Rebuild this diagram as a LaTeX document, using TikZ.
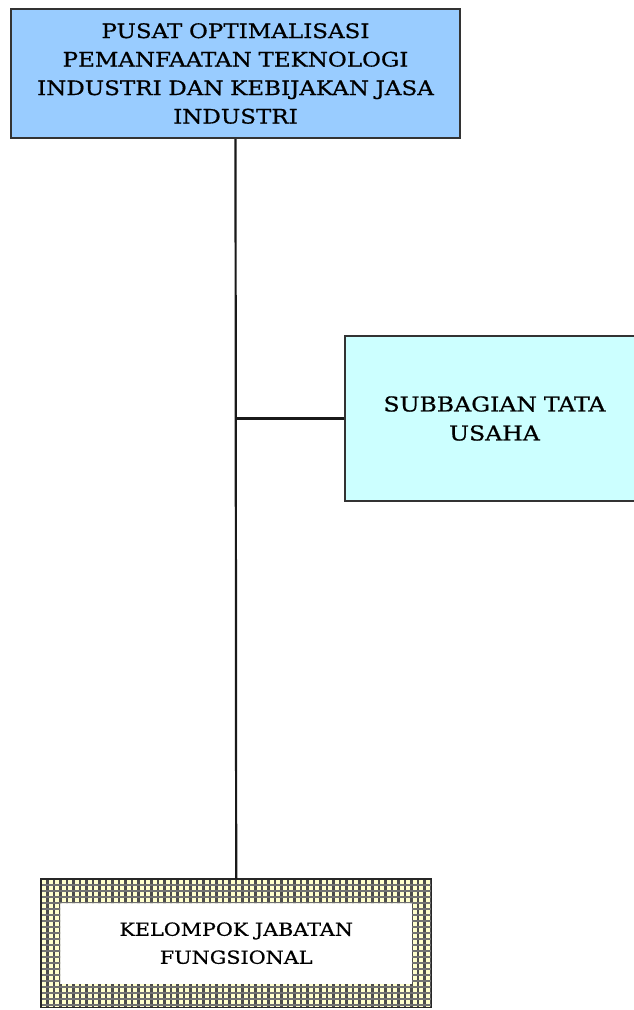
\documentclass[tikz,border=0pt]{standalone}
\usepackage{fontspec}
\setmainfont{DejaVu Serif}
\newfontfamily\orgfont[FakeStretch=1.15, FakeBold=0.7]{DejaVu Serif}
\definecolor{topblue}{HTML}{99CCFF}
\definecolor{subcyan}{HTML}{CCFFFF}
\definecolor{kuning}{HTML}{FFFFCC}
\begin{document}
\begin{tikzpicture}[x=1pt,y=-1pt,
  box/.style={draw=black!80, line width=2pt, align=center, inner sep=0pt, anchor=north west},
  conn/.style={line width=2.2pt, draw=black!90},
  hatchv/.style={line width=2.2pt, draw=black!70},
  hatchh/.style={line width=1.6pt, draw=black!55}]
\useasboundingbox (0,0) rectangle (634,1010);
\node[box, fill=topblue, minimum width=449pt, minimum height=129pt, text width=440pt,
  font=\orgfont\fontsize{20}{28.5}\selectfont] (top) at (10,8)
  {PUSAT OPTIMALISASI\\ PEMANFAATAN TEKNOLOGI\\ INDUSTRI DAN KEBIJAKAN JASA\\ INDUSTRI};
\node[box, fill=subcyan, minimum width=299pt, minimum height=165pt, text width=290pt,
  font=\orgfont\fontsize{20.5}{29}\selectfont] (sub) at (344,335)
  {SUBBAGIAN TATA\\ USAHA};
\begin{scope}[even odd rule]
  \clip (41,879) rectangle (431,1007) (60,903) rectangle (412,984);
  \fill[kuning] (41,879) rectangle (431,1007);
  \foreach \i in {0,...,60} \draw[hatchv] ({41+6.5*\i},879) -- ++(0,128);
  \foreach \j in {0,...,21} \draw[hatchh] (41,{879+6*\j}) -- ++(390,0);
\end{scope}
\node[anchor=north west, minimum width=390pt, minimum height=128pt, inner sep=0pt,
  align=center, font=\orgfont\fontsize{18}{28}\selectfont] (kjf) at (41,879)
  {KELOMPOK JABATAN\\ FUNGSIONAL};
\draw[line width=1.5pt, black!85] (kjf.north west) rectangle (kjf.south east);
\draw[conn] (top.south) -- (kjf.north);
\draw[conn] (top.south |- sub.west) -- (sub.west);
\end{tikzpicture}
\end{document}
